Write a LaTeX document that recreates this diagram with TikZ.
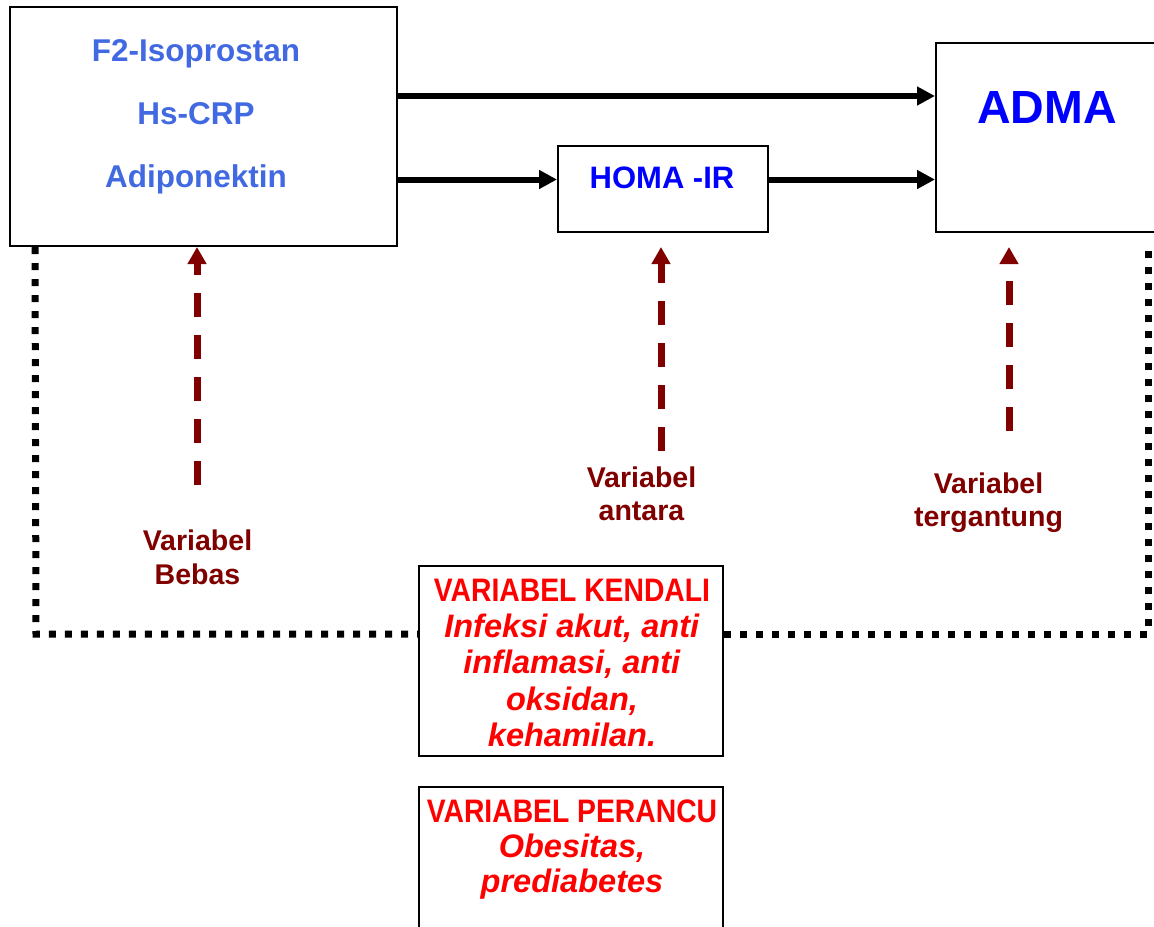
\documentclass[tikz,border=0pt]{standalone}
\usepackage{graphicx}
\usepackage{fontspec}
\setmainfont{Liberation Sans}
\usetikzlibrary{arrows.meta,calc}
\definecolor{lblue}{RGB}{65,105,225}
\definecolor{pblue}{RGB}{0,0,255}
\definecolor{dred}{RGB}{128,0,0}
\definecolor{bred}{RGB}{255,0,0}
\begin{document}
\begin{tikzpicture}[x=0.75pt,y=-0.75pt,
  box/.style={draw=black,line width=1.5pt,fill=white,rectangle,inner sep=0pt},
  txt/.style={inner sep=0pt,align=center},
  barrow/.style={line width=4.5pt,-{Triangle[length=13.5pt,width=13.5pt]}},
  darrow/.style={dred,line width=5.25pt,dash pattern=on 18pt off 13.5pt,-{Triangle[length=12.75pt,width=13.5pt]}},
  dotline/.style={line width=5.25pt,dash pattern=on 5.25pt off 6.75pt}]
\useasboundingbox (0,0) rectangle (1154,926);
\clip (0,0) rectangle (1154,926);
% boxes
\node[box,minimum width=290.25pt,minimum height=179.25pt] (bebas) at (203.5,126.5) {};
\node[box,minimum width=213pt,minimum height=141.75pt] (adma) at (1078,137.5) {};
\node[box,minimum width=157.5pt,minimum height=64.5pt] (homa) at (663,189) {};
\node[box,minimum width=228pt,minimum height=142.5pt] (kendali) at (571,661) {};
\node[box,minimum width=228pt,minimum height=137.25pt] (perancu) at (571,878.5) {};
% texts
\node[txt,lblue,anchor=north,font=\fontsize{23.6pt}{47.25pt}\selectfont\bfseries] (bebastxt) at (196,39.5) {F2-Isoprostan\\Hs-CRP\\Adiponektin};
\node[txt,pblue,anchor=base,font=\fontsize{34.9pt}{40pt}\selectfont\bfseries] (admatxt) at (1047,123) {ADMA};
\node[txt,pblue,anchor=base,font=\fontsize{23.25pt}{28pt}\selectfont\bfseries] (homatxt) at (662,188) {HOMA -IR};
\node[txt,bred,anchor=north,font=\fontsize{24.4pt}{27.2pt}\selectfont\bfseries] (kendalitxt) at (572,578.7)
  {\scalebox{0.87}[1]{VARIABEL KENDALI}\\\textit{Infeksi akut, anti}\\\textit{inflamasi, anti}\\\textit{oksidan,}\\\textit{kehamilan.}};
\node[txt,bred,anchor=north,font=\fontsize{24.4pt}{26.3pt}\selectfont\bfseries] (perancutxt) at (572,799.7)
  {\scalebox{0.87}[1]{VARIABEL PERANCU}\\\textit{Obesitas,}\\\textit{prediabetes}};
\node[txt,dred,anchor=north,font=\fontsize{21.4pt}{25.5pt}\selectfont\bfseries] (lbebas) at (197.5,529.5) {Variabel\\Bebas};
\node[txt,dred,anchor=north,font=\fontsize{21.4pt}{24.75pt}\selectfont\bfseries] (lantara) at (641.5,466.5) {Variabel\\antara};
\node[txt,dred,anchor=north,font=\fontsize{21.4pt}{24.75pt}\selectfont\bfseries] (lterg) at (988.5,472.5) {Variabel\\tergantung};
% solid arrows
\coordinate (ya) at (0,96);
\coordinate (yb) at (0,179.5);
\draw[barrow] (bebas.east |- ya) -- (adma.west |- ya);
\draw[barrow] (bebas.east |- yb) -- (homa.west |- yb);
\draw[barrow] (homa.east |- yb) -- (adma.west |- yb);
% dashed arrows
\coordinate (s1) at (197,485);
\coordinate (s2) at (661,451);
\coordinate (s3) at (1009,431);
\draw[darrow] (s1) -- (s1 |- bebas.south);
\draw[darrow] (s2) -- ($(s2 |- homa.south)+(0,14)$);
\draw[darrow] (s3) -- ($(s3 |- adma.south)+(0,14)$);
% dotted control line
\coordinate (d1) at ($(bebas.south west)+(26,0)$);
\coordinate (c1) at (36,634);
\coordinate (c2) at (1148,634);
\coordinate (d2) at (1148,247);
\draw[dotline] (d1) -- (c1) -- (c1 -| kendali.west);
\draw[dotline] (c2 -| kendali.east) -- (c2) -- (d2);
\end{tikzpicture}
\end{document}
